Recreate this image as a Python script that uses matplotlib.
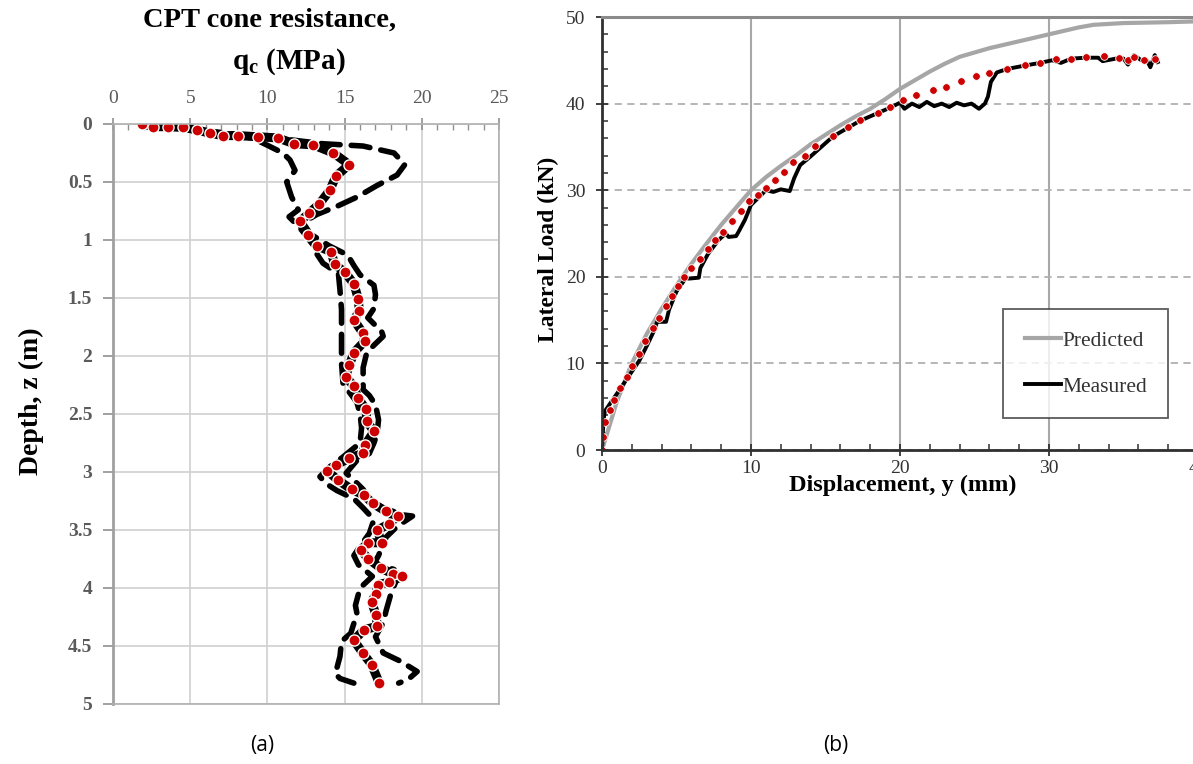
import matplotlib
matplotlib.use("Agg")
import matplotlib.pyplot as plt
from matplotlib.ticker import MultipleLocator, FormatStrFormatter

plt.rcParams['font.family'] = ['Liberation Serif', 'DejaVu Serif']
plt.rcParams['mathtext.fontset'] = 'custom'
plt.rcParams['mathtext.rm'] = 'Liberation Serif:bold'
plt.rcParams['mathtext.it'] = 'Liberation Serif:italic:bold'
plt.rcParams['mathtext.bf'] = 'Liberation Serif:bold'

# ---------------- (a) CPT cone resistance ----------------
cpt_q = [1.86, 2.61, 3.58, 4.55, 5.42, 6.28, 7.14, 8.07, 9.41, 10.66, 11.74, 12.97, 14.27, 15.30, 14.44,
         14.05, 13.36, 12.69, 12.11, 12.61, 13.19, 14.12, 14.36, 15.03, 15.61, 15.89, 15.95, 15.61, 16.17, 16.32,
         15.61, 15.30, 15.07, 15.61, 15.85, 16.39, 16.43, 16.90, 16.32, 16.17, 15.30, 14.44, 13.88, 14.57, 15.46,
         16.26, 16.82, 17.68, 18.44, 17.86, 17.12, 17.40, 16.54, 16.04, 16.54, 17.36, 18.16, 18.72, 17.90, 17.18,
         17.03, 16.75, 17.03, 17.12, 16.26, 15.60, 16.17, 16.75, 17.25]
cpt_z = [0.0, 0.023, 0.023, 0.03, 0.05, 0.08, 0.10, 0.10, 0.11, 0.12, 0.17, 0.18, 0.25, 0.35, 0.45,
         0.57, 0.69, 0.77, 0.84, 0.96, 1.05, 1.10, 1.21, 1.28, 1.38, 1.51, 1.61, 1.69, 1.80, 1.87,
         1.97, 2.08, 2.18, 2.26, 2.36, 2.46, 2.56, 2.65, 2.77, 2.84, 2.88, 2.94, 2.99, 3.07, 3.15,
         3.20, 3.27, 3.34, 3.38, 3.45, 3.50, 3.61, 3.61, 3.67, 3.75, 3.83, 3.88, 3.90, 3.95, 3.97,
         4.05, 4.12, 4.23, 4.33, 4.36, 4.45, 4.56, 4.66, 4.82]

upper_z = [0, 0.04, 0.09, 0.12, 0.17, 0.19, 0.25, 0.35, 0.44, 0.53, 0.63, 0.71, 0.78, 0.85, 0.95, 1.05, 1.13,
           1.22, 1.30, 1.39, 1.47, 1.59, 1.67, 1.79, 1.83, 1.92, 1.99, 2.10, 2.20, 2.29, 2.34, 2.42, 2.55,
           2.67, 2.75, 2.84, 2.90, 3.01, 3.07, 3.15, 3.24, 3.31, 3.37, 3.38, 3.47, 3.56, 3.65, 3.72, 3.79,
           3.84, 3.95, 4.05, 4.19, 4.30, 4.42, 4.56, 4.63, 4.72, 4.79, 4.82]
upper_q = [1.9, 5.0, 8.0, 10.5, 13.6, 16.2, 18.2, 18.9, 18.4, 17.1, 15.8, 14.5, 13.2, 12.3, 12.8, 14.0, 15.2,
           15.6, 16.0, 16.9, 17.0, 16.9, 16.5, 17.4, 17.5, 16.8, 16.4, 16.2, 16.2, 16.2, 16.6, 17.0, 17.2,
           17.1, 16.9, 16.6, 15.8, 15.1, 15.6, 16.2, 16.6, 17.5, 18.8, 19.4, 18.4, 17.7, 17.4, 17.2, 16.9,
           18.2, 18.3, 18.0, 17.7, 17.5, 17.0, 17.5, 18.6, 19.7, 19.1, 18.5]

lower_z = [0, 0.04, 0.09, 0.12, 0.18, 0.25, 0.31, 0.40, 0.50, 0.63, 0.74, 0.80, 0.88, 0.96, 1.05, 1.12, 1.20,
           1.29, 1.43, 1.60, 1.78, 1.89, 2.06, 2.24, 2.32, 2.40, 2.50, 2.62, 2.75, 2.87, 2.96, 3.04, 3.10,
           3.16, 3.23, 3.31, 3.41, 3.53, 3.64, 3.72, 3.80, 3.90, 4.00, 4.15, 4.22, 4.39, 4.46, 4.59, 4.74,
           4.78, 4.82]
lower_q = [1.9, 4.6, 7.5, 9.0, 9.95, 11.0, 11.46, 11.79, 11.25, 11.57, 12.0, 11.4, 12.0, 12.5, 13.0, 13.2, 13.6,
           14.6, 14.7, 14.8, 14.8, 14.8, 14.8, 14.9, 15.35, 15.8, 16.0, 16.1, 16.0, 14.9, 14.0, 13.4, 13.8,
           14.5, 15.6, 16.2, 16.9, 16.6, 16.0, 15.6, 15.9, 16.8, 16.0, 15.7, 15.8, 15.4, 14.8, 14.7, 14.4,
           14.7, 15.6]

# ---------------- (b) Lateral load test ----------------
fit_y = [0, 0.05, 0.18, 0.55, 0.8, 1.2, 1.65, 2.0, 2.45, 2.9, 3.4, 3.85, 4.3, 4.7, 5.1, 5.5, 6.0, 6.6, 7.1,
         7.6, 8.1, 8.7, 9.3, 9.85, 10.5, 11.0, 11.6, 12.2, 12.85, 13.6, 14.3, 15.5, 16.5, 17.3, 18.5, 19.3,
         20.2, 21.1, 22.2, 23.1, 24.1, 25.1, 26.0, 27.2, 28.4, 29.4, 30.5, 31.5, 32.5, 33.7, 34.7, 35.3,
         35.7, 36.4, 37.1]
fit_P = [0, 1.5, 3.2, 4.6, 5.8, 7.2, 8.4, 9.7, 11.1, 12.6, 14.1, 15.3, 16.6, 17.8, 18.9, 20.0, 21.0, 22.1,
         23.2, 24.3, 25.2, 26.5, 27.6, 28.7, 29.4, 30.3, 31.2, 32.1, 33.3, 34.0, 35.1, 36.3, 37.3, 38.1,
         38.9, 39.6, 40.4, 41.0, 41.6, 41.9, 42.6, 43.2, 43.5, 44.0, 44.4, 44.7, 45.1, 45.2, 45.4, 45.5,
         45.3, 45.0, 45.4, 45.0, 45.1]

meas_y = [0, 0.1, 0.2, 0.6, 1.2, 1.7, 2.5, 3.0, 3.5, 3.7, 4.3, 4.5, 5.0, 5.6, 5.9, 6.5, 6.6, 7.1, 7.8,
          8.3, 8.5, 9.0, 9.2, 9.6, 10.0, 10.6, 11.0, 11.5, 12.0, 12.6, 12.9, 13.3, 14.0, 15.5, 17.3, 19.3,
          20.0, 20.3, 20.8, 21.3, 21.8, 22.3, 22.8, 23.3, 23.8, 24.3, 24.8, 25.3, 25.7, 25.9, 26.1, 26.5,
          27.2, 28.4, 29.4, 30.2, 30.8, 31.5, 32.5, 33.3, 33.6, 34.5, 35.0, 35.3, 35.7, 36.2, 36.6, 36.8,
          37.1, 37.3]
meas_P = [0, 3.5, 4.5, 5.5, 7.0, 8.3, 10.3, 12.0, 13.8, 14.8, 14.8, 16.2, 18.3, 19.8, 19.8, 19.9, 21.0, 22.6,
          24.2, 25.0, 24.6, 24.7, 25.3, 26.6, 28.3, 29.3, 30.0, 29.8, 30.1, 29.9, 31.4, 32.9, 33.9, 36.2,
          38.0, 39.5, 40.1, 39.4, 40.0, 39.6, 40.2, 39.7, 40.0, 39.6, 40.1, 39.8, 40.0, 39.4, 40.0, 40.8,
          42.5, 43.6, 44.0, 44.4, 44.7, 45.0, 44.7, 45.2, 45.3, 45.3, 44.9, 45.2, 45.2, 44.5, 45.6, 45.0,
          44.9, 44.2, 45.6, 44.8]

pred_y = [0, 0.5, 1, 2, 3, 4, 5, 6, 7, 8, 9, 10, 11, 12, 13, 14, 15, 16, 17, 18, 19, 20, 21, 22, 23, 24,
          25, 26, 27, 28, 29, 30, 31, 32, 33, 35, 38, 40]
pred_P = [0, 2.8, 5.6, 10.0, 13.4, 16.3, 19.0, 21.5, 23.8, 26.0, 28.0, 30.0, 31.5, 32.8, 34.0, 35.3, 36.4,
          37.5, 38.5, 39.4, 40.5, 41.7, 42.7, 43.7, 44.6, 45.4, 45.9, 46.4, 46.8, 47.2, 47.6, 48.0, 48.4,
          48.8, 49.1, 49.3, 49.4, 49.5]

W, H = 1193, 764
fig = plt.figure(figsize=(W / 100, H / 100), dpi=100)

def fx(px):
    return px / W

def fy(py):
    return 1 - py / H

# ---- panel (a)
axa = fig.add_axes([fx(113), fy(704), fx(499) - fx(113), fy(124) - fy(704)])
gridc = '#d0d0d0'
axa.set_xlim(0, 25)
axa.set_ylim(5, 0)
axa.xaxis.set_major_locator(MultipleLocator(5))
axa.xaxis.set_minor_locator(MultipleLocator(1))
axa.yaxis.set_major_locator(MultipleLocator(0.5))
axa.yaxis.set_major_formatter(FormatStrFormatter('%g'))
axa.xaxis.tick_top()
axa.grid(True, which='major', color=gridc, lw=1.2)
for s in ['left', 'right', 'top', 'bottom']:
    axa.spines[s].set_color('#b0b0b0')
    axa.spines[s].set_linewidth(1.2)
axa.spines['left'].set_color('#a0a0a0')
axa.spines['left'].set_linewidth(2.0)
axa.tick_params(axis='x', which='major', direction='inout', length=8, width=1.2, color='#909090',
                pad=8, labelsize=14, labelcolor='#5a5a5a')
axa.tick_params(axis='x', which='minor', direction='in', length=4, width=1, color='#909090')
axa.tick_params(axis='y', which='major', direction='out', length=7, width=1.2, color='#909090',
                pad=8, labelsize=14, labelcolor='#5a5a5a')
for lab in axa.get_yticklabels():
    lab.set_fontweight('bold')

dash_kw = dict(color='black', lw=4.0, dashes=(3.4, 2.0), dash_capstyle='round', solid_capstyle='round')
axa.plot(upper_q, upper_z, **dash_kw)
axa.plot(lower_q, lower_z, **dash_kw)
axa.plot(cpt_q, cpt_z, color='black', lw=6.5, solid_capstyle='round', solid_joinstyle='round')
axa.plot(cpt_q, cpt_z, ls='none', marker='o', ms=8, mfc='#cc0000', mec='white', mew=1.0)

fig.text(fx(270), fy(20), 'CPT cone resistance,', ha='center', va='center', fontsize=20.5, fontweight='bold')
fig.text(fx(289), fy(62), r'q$_{\rm c}$ (MPa)', ha='center', va='center', fontsize=21, fontweight='bold')
fig.text(fx(31), fy(401), 'Depth, z (m)', ha='center', va='center', rotation=90, fontsize=20, fontweight='bold')

# ---- panel (b)
x0 = 602
x40 = 602 + 40 * 14.9
axb = fig.add_axes([fx(x0), fy(450), fx(x40) - fx(x0), fy(17) - fy(450)])
axb.set_xlim(0, 40)
axb.set_ylim(0, 50)
axb.xaxis.set_major_locator(MultipleLocator(10))
axb.xaxis.set_minor_locator(MultipleLocator(2))
axb.yaxis.set_major_locator(MultipleLocator(10))
axb.yaxis.set_minor_locator(MultipleLocator(2))
axb.grid(True, axis='x', which='major', color='#a8a8a8', lw=1.5, ls='-')
axb.grid(True, axis='y', which='major', color='#b0b0b0', lw=1.3, ls=(0, (4, 3)))
axb.spines['left'].set_color('#303030')
axb.spines['bottom'].set_color('#303030')
axb.spines['left'].set_linewidth(2.0)
axb.spines['bottom'].set_linewidth(2.0)
axb.spines['top'].set_color('#8a8a8a')
axb.spines['top'].set_linewidth(2.2)
axb.spines['right'].set_visible(False)
axb.tick_params(which='major', direction='inout', length=8, width=1.3, color='#303030', labelsize=14,
                labelcolor='#333333')
axb.tick_params(which='minor', direction='in', length=4, width=1.1, color='#303030')
axb.tick_params(axis='y', which='major', pad=8)
axb.tick_params(axis='x', which='major', pad=3)

lp, = axb.plot(pred_y, pred_P, color='#a6a6a6', lw=3.0, label='Predicted')
lm, = axb.plot(meas_y, meas_P, color='black', lw=2.8, label='Measured')
axb.plot(fit_y, fit_P, ls='none', marker='o', ms=5.5, mfc='#cc0000', mec='white', mew=0.6)

leg = axb.legend(handles=[lp, lm], loc='upper left', bbox_to_anchor=(fx(1003), fy(309)),
                 bbox_transform=fig.transFigure, fontsize=15.5, frameon=True, fancybox=False,
                 edgecolor='#333333', handlelength=1.7, handletextpad=0.05, labelspacing=1.2,
                 borderpad=1.0, borderaxespad=0)
leg.get_frame().set_linewidth(1.3)
for t in leg.get_texts():
    t.set_color('#333333')

fig.text(fx(548), fy(249), 'Lateral Load (kN)', ha='center', va='center', rotation=90, fontsize=17,
         fontweight='bold')
fig.text(fx(903), fy(485), 'Displacement, y (mm)', ha='center', va='center', fontsize=17.5, fontweight='bold')

fig.text(fx(262), fy(746), '(a)', ha='center', va='center', fontsize=15, family='Open Sans')
fig.text(fx(836), fy(746), '(b)', ha='center', va='center', fontsize=15, family='Open Sans')

fig.savefig('out.png', dpi=100)
